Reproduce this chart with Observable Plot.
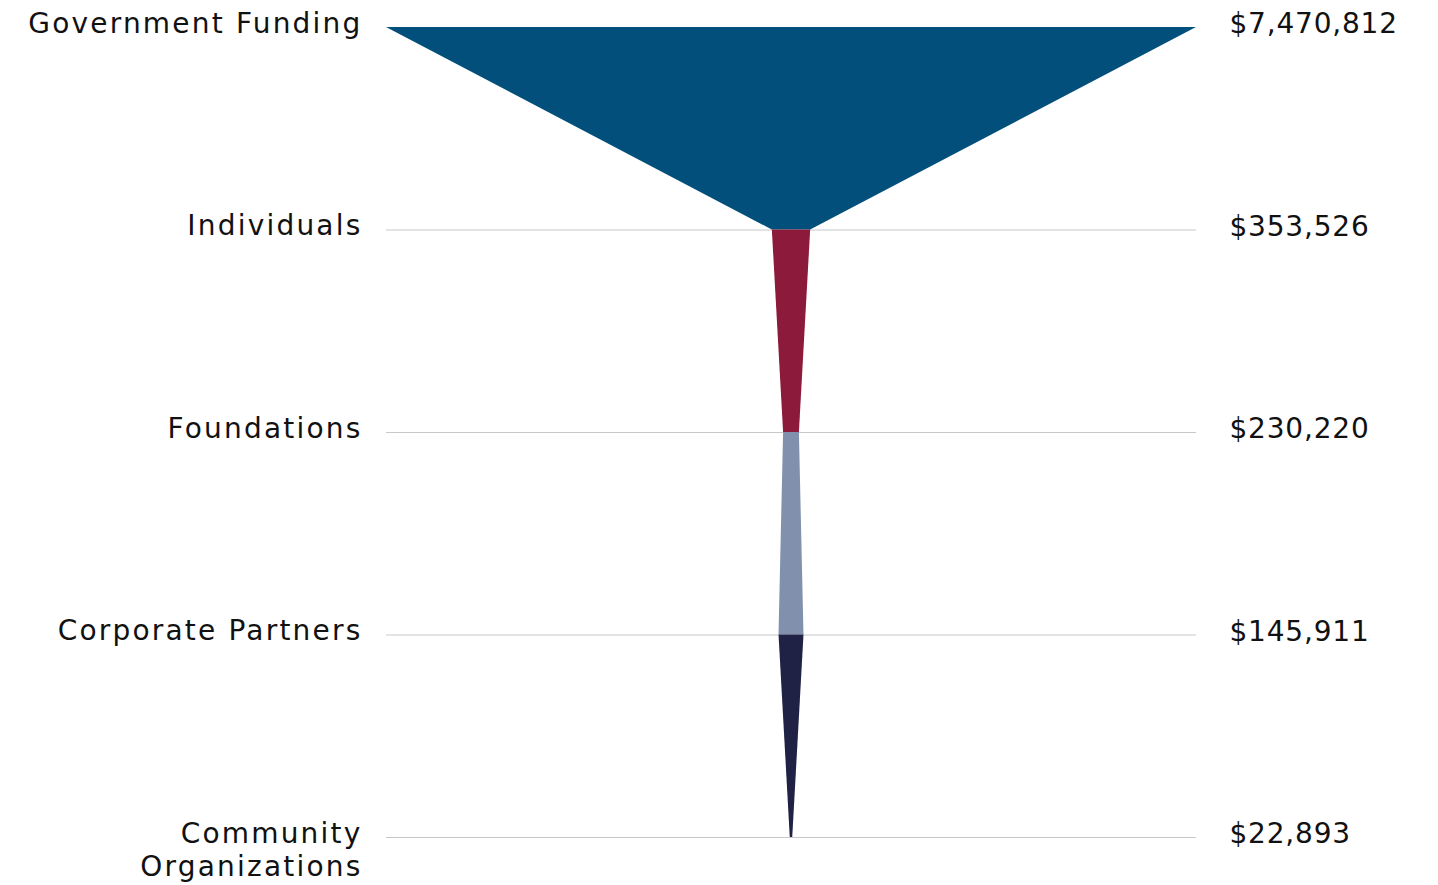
<!DOCTYPE html>
<html>
<head>
<meta charset="utf-8">
<script src="https://cdn.jsdelivr.net/npm/d3@7"></script>
<script src="https://cdn.jsdelivr.net/npm/@observablehq/plot@0.6"></script>
<style>
  html, body { margin: 0; padding: 0; background: #fff; }
  #chart svg { display: block; }
</style>
</head>
<body>
<div id="chart"></div>
<script>
// Funding sources (top to bottom)
const categories = ["Government Funding", "Individuals", "Foundations", "Corporate Partners", "Community\nOrganizations"];
// Values shown as labels
const labelValues = [7470812, 353526, 230220, 145911, 22893];
// Funnel width at each level
const shapeValues = [7470812, 353526, 145911, 230220, 22893];
// Segment colours (segment i joins level i and level i+1)
const segmentColors = ["#024f7c", "#8c1a3a", "#8191ad", "#1f2145"];

const maxV = d3.max(shapeValues);
const levels = categories.map((c, i) => ({level: i, name: c, value: labelValues[i], w: shapeValues[i]}));
const segRows = [];
for (let i = 0; i < levels.length - 1; i++) {
  segRows.push({seg: i, level: i, w: levels[i].w});
  segRows.push({seg: i, level: i + 1, w: levels[i + 1].w});
}
const fmt = d3.format("$,");
const font = "DejaVu Sans";

const chart = Plot.plot({
  width: 1438,
  height: 885,
  marginLeft: 386,
  marginRight: 242,
  marginTop: 27,
  marginBottom: 48,
  x: {domain: [-maxV / 2, maxV / 2], axis: null},
  y: {domain: [0, levels.length - 1], axis: null, reverse: true},
  color: {domain: d3.range(segmentColors.length), range: segmentColors},
  style: {fontFamily: font, background: "#fff"},
  marks: [
    Plot.ruleY(levels.slice(1), {y: "level", x1: -maxV / 2, x2: maxV / 2, stroke: "#c8c8cc", strokeWidth: 1}),
    Plot.areaX(segRows, {y: "level", x1: d => -d.w / 2, x2: d => d.w / 2, z: "seg", fill: "seg"}),
    Plot.text(levels, {y: "level", x: -maxV / 2, text: "name", textAnchor: "end", lineAnchor: "top", dx: -24, dy: -18, fontSize: 28, lineHeight: 1.18, fill: "#111"}),
    Plot.text(levels, {y: "level", x: maxV / 2, text: d => fmt(d.value), textAnchor: "start", lineAnchor: "middle", dx: 33, dy: -3, fontSize: 28, fill: "#111"})
  ]
});
d3.select(chart).selectAll("g").filter(function() { return this.getAttribute("text-anchor") === "end"; })
  .selectAll("text").style("letter-spacing", "2.2px");
d3.select(chart).selectAll("g").filter(function() { return this.getAttribute("text-anchor") === "start"; })
  .selectAll("text").style("letter-spacing", "0.8px");
document.getElementById("chart").appendChild(chart);
</script>
</body>
</html>
